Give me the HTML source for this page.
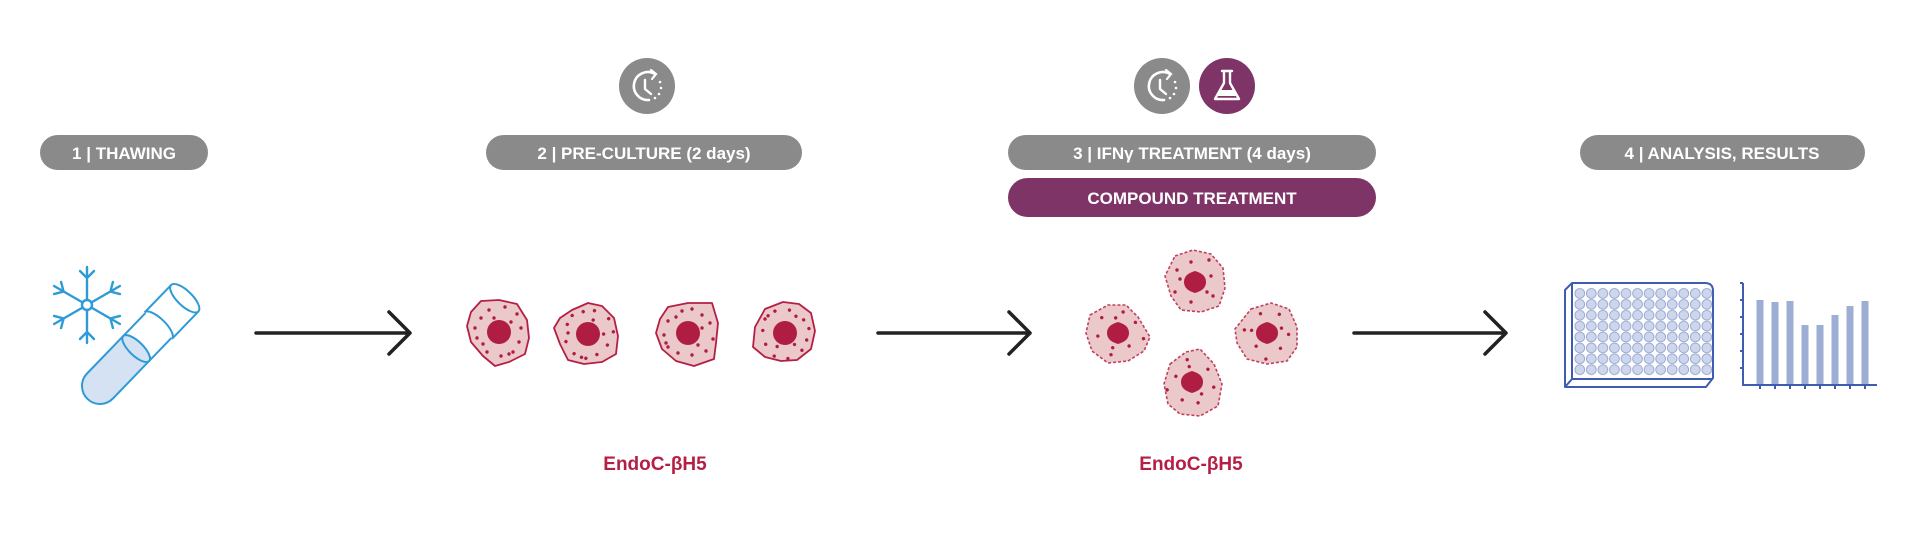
<!DOCTYPE html>
<html><head><meta charset="utf-8"><style>
html,body{margin:0;padding:0;background:#fff;width:1920px;height:533px;overflow:hidden}
svg{display:block}
text{font-family:"Liberation Sans Narrow","Liberation Sans",sans-serif;font-weight:bold}
</style></head><body>
<svg width="1920" height="533" viewBox="0 0 1920 533" xmlns="http://www.w3.org/2000/svg">
<defs>
<g id="dots">
<circle cx="-18" cy="-14" r="1.7"/><circle cx="-10" cy="-22" r="1.7"/><circle cx="6" cy="-25" r="1.7"/><circle cx="18" cy="-18" r="1.7"/>
<circle cx="22" cy="-4" r="1.7"/><circle cx="20" cy="10" r="1.7"/><circle cx="14" cy="20" r="1.7"/><circle cx="2" cy="24" r="1.7"/>
<circle cx="-12" cy="20" r="1.7"/><circle cx="-22" cy="6" r="1.7"/><circle cx="-24" cy="-4" r="1.7"/><circle cx="-5" cy="-14" r="1.7"/>
<circle cx="12" cy="-10" r="1.7"/><circle cx="-16" cy="12" r="1.7"/><circle cx="10" cy="22" r="1.7"/>
</g>
<g id="dots2">
<circle cx="-18" cy="-12" r="1.7"/><circle cx="-4" cy="-20" r="1.7"/><circle cx="14" cy="-22" r="1.7"/><circle cx="16" cy="-6" r="1.7"/>
<circle cx="12" cy="10" r="1.7"/><circle cx="18" cy="14" r="1.7"/><circle cx="-4" cy="20" r="1.7"/><circle cx="-20" cy="10" r="1.7"/><circle cx="-15" cy="-3" r="1.7"/>
</g>
</defs>

<!-- pills -->
<rect x="40" y="135" width="168" height="35" rx="17.5" fill="#8a8a8a"/>
<text x="124" y="159" font-size="17" fill="#fff" text-anchor="middle">1 | THAWING</text>
<rect x="486" y="135" width="316" height="35" rx="17.5" fill="#8a8a8a"/>
<text x="644" y="159" font-size="17" fill="#fff" text-anchor="middle">2 | PRE-CULTURE (2 days)</text>
<rect x="1008" y="135" width="368" height="35" rx="17.5" fill="#8a8a8a"/>
<text x="1192" y="159" font-size="17" fill="#fff" text-anchor="middle">3 | IFNγ TREATMENT (4 days)</text>
<rect x="1008" y="178" width="368" height="39" rx="19.5" fill="#7f3468"/>
<text x="1192" y="204" font-size="17" fill="#fff" text-anchor="middle">COMPOUND TREATMENT</text>
<rect x="1580" y="135" width="285" height="35" rx="17.5" fill="#8a8a8a"/>
<text x="1722" y="159" font-size="17" fill="#fff" text-anchor="middle">4  | ANALYSIS, RESULTS</text>

<!-- clock icons -->
<g transform="translate(647,86)">
<circle r="28" fill="#8a8a8a"/>
<path d="M8,-12 A14,14 0 1 0 2,14" fill="none" stroke="#fff" stroke-width="2.6" stroke-linecap="round"/>
<path d="M4,-16 L9,-12 L5,-7" fill="none" stroke="#fff" stroke-width="2.2" stroke-linecap="round"/>
<path d="M-2,-6 L-2,3 L4,8" fill="none" stroke="#fff" stroke-width="2.4" stroke-linecap="round"/>
<circle cx="13" cy="-4" r="1.3" fill="#fff"/><circle cx="14" cy="2" r="1.3" fill="#fff"/><circle cx="12" cy="8" r="1.3" fill="#fff"/><circle cx="8" cy="12" r="1.3" fill="#fff"/>
</g>
<g transform="translate(1162,86)">
<circle r="28" fill="#8a8a8a"/>
<path d="M8,-12 A14,14 0 1 0 2,14" fill="none" stroke="#fff" stroke-width="2.6" stroke-linecap="round"/>
<path d="M4,-16 L9,-12 L5,-7" fill="none" stroke="#fff" stroke-width="2.2" stroke-linecap="round"/>
<path d="M-2,-6 L-2,3 L4,8" fill="none" stroke="#fff" stroke-width="2.4" stroke-linecap="round"/>
<circle cx="13" cy="-4" r="1.3" fill="#fff"/><circle cx="14" cy="2" r="1.3" fill="#fff"/><circle cx="12" cy="8" r="1.3" fill="#fff"/><circle cx="8" cy="12" r="1.3" fill="#fff"/>
</g>
<g transform="translate(1227,86)">
<circle r="28" fill="#7f3468"/>
<path d="M-5,-15 L5,-15 M-3,-15 L-3,-3 L-12,13 L12,13 L3,-3 L3,-15" fill="none" stroke="#fff" stroke-width="2.4" stroke-linejoin="round" stroke-linecap="round"/>
<path d="M-6,4 L6,4 L9,10 L-9,10 Z" fill="#fff"/>
</g>

<!-- snowflake -->
<g transform="translate(87,305)" stroke="#2f9bd6" stroke-width="2.4" fill="none" stroke-linecap="round">
<circle r="5" fill="#fff"/>
<g id="arm"><path d="M0,-5 L0,-38 M-7,-34 L0,-27 L7,-34"/></g>
<use href="#arm" transform="rotate(60)"/><use href="#arm" transform="rotate(120)"/><use href="#arm" transform="rotate(180)"/><use href="#arm" transform="rotate(240)"/><use href="#arm" transform="rotate(300)"/>
</g>
<!-- tube -->
<g transform="translate(100,386) rotate(-46)" stroke="#2f9bd6" stroke-width="2" fill="none">
<path d="M0,-18 L52,-18 A7,18 0 0 1 52,18 L0,18 A18,18 0 0 1 0,-18 Z" fill="#d4e2f3"/>
<path d="M52,-18 L84,-18 M52,18 L84,18"/>
<ellipse cx="52" cy="0" rx="7" ry="18" fill="#d4e2f3"/>
<path d="M84,-19 L122,-19 M84,19 L122,19"/>
<path d="M84,-19 A7,19 0 0 1 84,19"/>
<ellipse cx="122" cy="0" rx="7.5" ry="19" fill="#fff"/>
</g>

<!-- arrows -->
<g stroke="#222" stroke-width="3.5" fill="none" stroke-linecap="round" stroke-linejoin="round">
<path d="M256,333 L410,333 M389,312 L410,333 L389,354"/>
<path d="M878,333 L1030,333 M1009,312 L1030,333 L1009,354"/>
<path d="M1354,333 L1506,333 M1485,312 L1506,333 L1485,354"/>
</g>

<!-- cells row -->
<g fill="#ebc8ca" stroke="#b51f45" stroke-width="1.8" stroke-linejoin="round">
<polygon transform="translate(499,332)" points="-18,-31 0,-32 18,-28 28,-12 30,6 26,22 10,30 -4,34 -16,24 -28,10 -32,-6 -28,-20"/>
<polygon transform="translate(588,334)" points="-16,-24 0,-31 14,-28 26,-16 30,2 28,20 14,28 -4,30 -20,26 -28,10 -34,-6 -28,-16"/>
<polygon transform="translate(688,333)" points="-20,-26 0,-30 24,-30 30,-10 28,10 26,26 6,33 -12,28 -26,16 -32,0 -28,-14"/>
<polygon transform="translate(785,333)" points="-20,-24 -2,-31 14,-29 26,-20 30,-2 26,16 12,27 -4,28 -20,24 -32,14 -30,-6"/>
</g>
<g fill="#b01d42">
<circle cx="499" cy="332" r="12"/><circle cx="588" cy="334" r="12"/><circle cx="688" cy="333" r="12"/><circle cx="785" cy="333" r="12"/>
<use href="#dots" transform="translate(499,332)"/><use href="#dots" transform="translate(588,334) rotate(40)"/>
<use href="#dots" transform="translate(688,333) rotate(90)"/><use href="#dots" transform="translate(785,333) rotate(160)"/>
</g>

<!-- treated cells -->
<g fill="#ebc8ca" stroke="#c0405e" stroke-width="1.6" stroke-dasharray="3 2" stroke-linejoin="round">
<polygon transform="translate(1195,282)" points="-20,-26 -2,-32 16,-28 28,-14 30,6 24,24 6,30 -14,28 -24,14 -30,-6"/>
<polygon transform="translate(1118,333)" points="-28,-18 -10,-28 8,-28 20,-16 32,4 26,18 10,28 -10,30 -26,18 -32,0"/>
<polygon transform="translate(1267,333)" points="-16,-24 4,-30 22,-24 30,-6 30,14 20,28 0,31 -20,26 -30,10 -32,-4"/>
<polygon transform="translate(1192,382)" points="-22,-18 -6,-30 8,-33 22,-18 30,2 26,24 8,34 -12,32 -24,22 -28,2"/>
</g>
<g fill="#b01d42">
<path d="M1195,271 Q1206,274 1206,282 Q1206,290 1195,293 Q1184,290 1184,282 Q1184,274 1195,271 Z"/>
<path d="M1118,322 Q1129,325 1129,333 Q1129,341 1118,344 Q1107,341 1107,333 Q1107,325 1118,322 Z"/>
<path d="M1267,322 Q1278,325 1278,333 Q1278,341 1267,344 Q1256,341 1256,333 Q1256,325 1267,322 Z"/>
<path d="M1192,371 Q1203,374 1203,382 Q1203,390 1192,393 Q1181,390 1181,382 Q1181,374 1192,371 Z"/>
<use href="#dots2" transform="translate(1195,282)"/><use href="#dots2" transform="translate(1118,333) rotate(70)"/>
<use href="#dots2" transform="translate(1267,333) rotate(150)"/><use href="#dots2" transform="translate(1192,382) rotate(220)"/>
</g>

<!-- labels -->
<text x="655" y="470" font-size="19" fill="#b51f45" text-anchor="middle">EndoC-βH5</text>
<text x="1191" y="470" font-size="19" fill="#b51f45" text-anchor="middle">EndoC-βH5</text>

<!-- plate -->
<g stroke="#3f5db0" stroke-width="2" fill="#fff" stroke-linejoin="round">
<path d="M1572,283 L1705,283 Q1713,283 1713,291 L1713,378 L1706,387 L1565,387 L1565,290 Z"/>
<path d="M1572,283 L1572,379 L1565,387 M1572,379 L1713,379" fill="none"/>
</g>
<pattern id="w" x="1574" y="288" width="11.55" height="10.9" patternUnits="userSpaceOnUse"><circle cx="5.8" cy="5.4" r="4.9" fill="#cdd6ea" stroke="#8fa0d0" stroke-width="0.8"/></pattern>
<rect x="1574" y="288" width="138.6" height="87.2" fill="url(#w)"/>

<!-- chart -->
<g stroke="#3f5db0" stroke-width="2" fill="none">
<path d="M1743,283 L1743,385 L1877,385"/>
<path d="M1743,300 h-3 M1743,317 h-3 M1743,334 h-3 M1743,351 h-3 M1743,368 h-3 M1743,283 h-3"/>
<path d="M1760,385 v4 M1775,385 v4 M1790,385 v4 M1805,385 v4 M1820,385 v4 M1835,385 v4 M1850,385 v4 M1865,385 v4"/>
</g>
<g fill="#9dadd3">
<rect x="1756.5" y="300" width="7" height="84"/>
<rect x="1771.5" y="302" width="7" height="82"/>
<rect x="1786.5" y="301" width="7" height="83"/>
<rect x="1801.5" y="325" width="7" height="59"/>
<rect x="1816.5" y="325" width="7" height="59"/>
<rect x="1831.5" y="315" width="7" height="69"/>
<rect x="1846.5" y="306" width="7" height="78"/>
<rect x="1861.5" y="301" width="7" height="83"/>
</g>
</svg>
</body></html>
